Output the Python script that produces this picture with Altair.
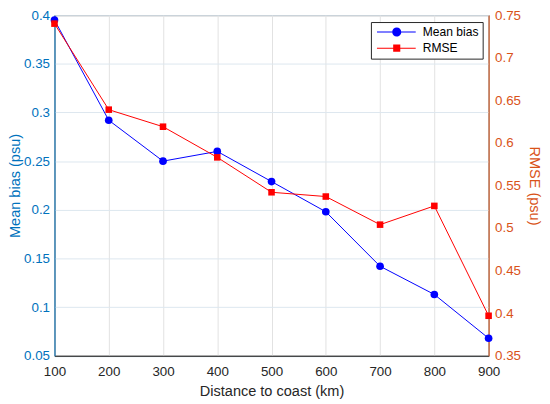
import altair as alt
import pandas as pd

# ---- data ----
distance = [100, 200, 300, 400, 500, 600, 700, 800, 900]
mean_bias = [0.395, 0.292, 0.250, 0.260, 0.229, 0.198, 0.142, 0.113, 0.068]
rmse = [0.740, 0.639, 0.619, 0.583, 0.542, 0.537, 0.504, 0.526, 0.397]
series_names = ["Mean bias", "RMSE"]
x_ticks = [100, 200, 300, 400, 500, 600, 700, 800, 900]
bias_ticks = [0.05, 0.1, 0.15, 0.2, 0.25, 0.3, 0.35, 0.4]
rmse_ticks = [0.35, 0.4, 0.45, 0.5, 0.55, 0.6, 0.65, 0.7, 0.75]

df = pd.DataFrame({"distance": distance, "bias": mean_bias, "rmse": rmse})
df_legend = pd.DataFrame({"series": series_names, "distance": [100, 100], "bias": [0.2, 0.2]})

FONT = "Liberation Sans"
BIAS_AXIS = "#0072BD"
RMSE_AXIS = "#D95319"
DARK = "#262626"
BLUE = "#0000FF"
RED = "#FF0000"

# legend symbols: line + marker (unit coords, scale 4px per unit)
path_bias = ("M-1,-0.13H2.85V0.13H-1Z M5.15,-0.13H8.8V0.13H5.15Z "
             "M2.85,0A1.15,1.15 0 1,0 5.15,0A1.15,1.15 0 1,0 2.85,0Z")
path_rmse = ("M-1,-0.13H3.1V0.13H-1Z M4.9,-0.13H8.8V0.13H4.9Z "
             "M3.1,-0.9H4.9V0.9H3.1Z")

x_enc = alt.X(
    "distance:Q",
    scale=alt.Scale(domain=[100, 900], nice=False, zero=False),
    axis=alt.Axis(values=x_ticks, format="d", title="Distance to coast (km)",
                  grid=True, gridColor="#e2e2e2", domainColor=DARK,
                  labelColor=DARK, titleColor=DARK, ticks=False, tickSize=0,
                  labelPadding=9, titleY=27.7, labelFlush=False),
)

y_bias = alt.Y(
    "bias:Q",
    scale=alt.Scale(domain=[0.05, 0.4], nice=False, zero=False),
    axis=alt.Axis(values=bias_ticks, format="~g", title="Mean bias (psu)",
                  orient="left", grid=True, gridColor="#dde7ef",
                  domainColor=BIAS_AXIS, labelColor=BIAS_AXIS,
                  titleColor=BIAS_AXIS, ticks=False, tickSize=0,
                  labelPadding=5, titleX=-32.7, labelFlush=False),
)

y_rmse = alt.Y(
    "rmse:Q",
    scale=alt.Scale(domain=[0.35, 0.75], nice=False, zero=False),
    axis=alt.Axis(values=rmse_ticks, format="~g", title="RMSE (psu)",
                  orient="right", grid=False,
                  domainColor=RMSE_AXIS, labelColor=RMSE_AXIS,
                  titleColor=RMSE_AXIS, ticks=False, tickSize=0,
                  labelPadding=6, titleX=38.7, labelFlush=False),
)

base = alt.Chart(df)

bias_line = base.mark_line(color=BLUE, strokeWidth=1).encode(x=x_enc, y=y_bias)
bias_pts = base.mark_point(filled=True, shape="circle", size=60, color=BLUE,
                           opacity=1).encode(x=x_enc, y=y_bias)

leg = alt.Legend(title=None, orient="none", legendX=320, legendY=7, padding=4,
                 symbolSize=64, symbolStrokeWidth=0, labelOffset=36.3,
                 labelFontSize=12.2, labelFont=FONT, labelColor="#000000",
                 strokeColor=DARK, fillColor="white", rowPadding=3.3,
                 symbolOpacity=1)

legend_layer = alt.Chart(df_legend).transform_filter("false").mark_point(
    filled=True, size=64, opacity=1
).encode(
    x=x_enc,
    y=y_bias,
    color=alt.Color("series:N", scale=alt.Scale(domain=series_names, range=[BLUE, RED]), legend=leg),
    shape=alt.Shape("series:N", scale=alt.Scale(domain=series_names, range=[path_bias, path_rmse]), legend=leg),
)

rmse_line = base.mark_line(color=RED, strokeWidth=1).encode(x=x_enc, y=y_rmse)
rmse_pts = base.mark_point(filled=True, shape="square", size=44, color=RED,
                           opacity=1).encode(x=x_enc, y=y_rmse)

left = alt.layer(bias_line, bias_pts, legend_layer)
right = alt.layer(rmse_line, rmse_pts)

chart = alt.layer(left, right).resolve_scale(y="independent").properties(
    width=439, height=344.5,
    autosize=alt.AutoSizeParams(type="none"),
    padding={"left": 47, "top": 5, "right": 54, "bottom": 43.5},
).configure(
    background="white",
).configure_view(
    stroke=DARK, strokeWidth=1,
).configure_axis(
    labelFont=FONT, titleFont=FONT, labelFontSize=13.5, titleFontSize=14.7,
    titleFontWeight="normal", domainWidth=1, gridWidth=1,
)

chart.save("out.html", embed_options={"renderer": "svg", "actions": False})
